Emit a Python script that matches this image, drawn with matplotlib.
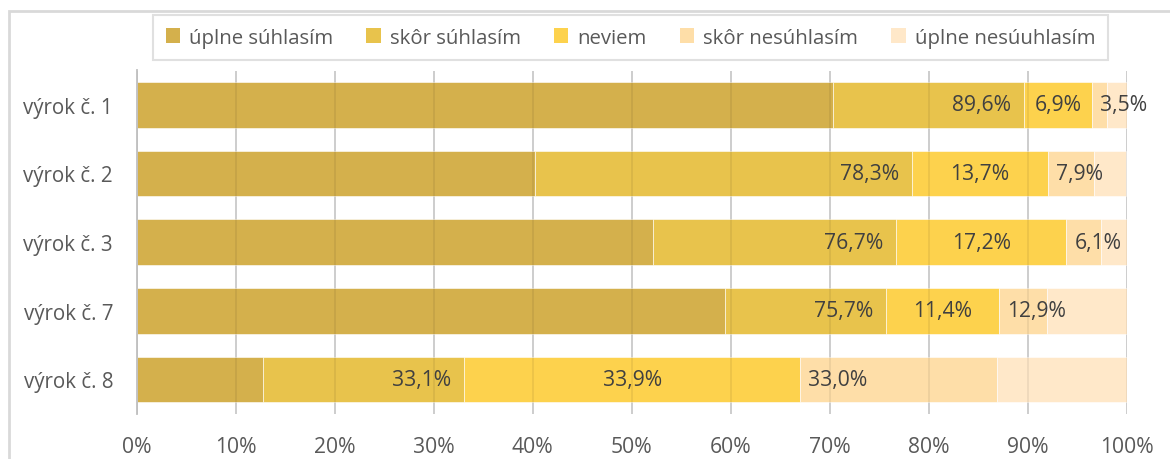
import matplotlib
matplotlib.use("Agg")
import matplotlib.pyplot as plt
import numpy as np
from matplotlib.patches import Patch, Rectangle

plt.rcParams["font.family"] = ["Open Sans", "DejaVu Sans"]

statements = ["výrok č. 1", "výrok č. 2", "výrok č. 3", "výrok č. 7", "výrok č. 8"]
series_names = ["úplne súhlasím", "skôr súhlasím", "neviem", "skôr nesúhlasím", "úplne nesúuhlasím"]
uplne_suhlasim = [70.3, 40.2, 52.2, 59.4, 12.8]
skor_suhlasim = [19.3, 38.1, 24.5, 16.3, 20.3]
neviem = [6.9, 13.7, 17.2, 11.4, 33.9]
skor_nesuhlasim = [1.5, 4.7, 3.5, 4.8, 19.9]
uplne_nesuhlasim = [2.0, 3.2, 2.6, 8.1, 13.1]
colors = ["#D4B04C", "#E8C34C", "#FDD24D", "#FEDEA8", "#FFE8C9"]
xticks = list(range(0, 101, 10))

text_color = "#404040"
axis_text_color = "#595959"

fig = plt.figure(figsize=(11.7, 4.6), dpi=100)
ax = fig.add_axes([136.7 / 1170, 1 - 414.8 / 460, 990 / 1170, 343.3 / 460])

series = [uplne_suhlasim, skor_suhlasim, neviem, skor_nesuhlasim, uplne_nesuhlasim]
y = np.arange(len(statements))
left = np.zeros(len(statements))
for vals, color, name in zip(series, colors, series_names):
    ax.barh(y, vals, left=left, height=0.665, color=color, edgecolor="white",
            linewidth=0.4, label=name, zorder=1)
    left = left + np.array(vals)

agree = np.array(uplne_suhlasim) + np.array(skor_suhlasim)
disagree = np.array(skor_nesuhlasim) + np.array(uplne_nesuhlasim)
lab_size = 15.2
for i in range(len(statements)):
    ax.annotate(f"{agree[i]:.1f}%".replace(".", ","), (agree[i], y[i]), xytext=(-9.5, 0),
                textcoords="offset points", ha="right", va="center",
                fontsize=lab_size, color=text_color, zorder=3)
    ax.text(agree[i] + neviem[i] / 2, y[i], f"{neviem[i]:.1f}%".replace(".", ","),
            ha="center", va="center", fontsize=lab_size, color=text_color, zorder=3)
    ax.annotate(f"{disagree[i]:.1f}%".replace(".", ","), (agree[i] + neviem[i], y[i]),
                xytext=(6, 0), textcoords="offset points", ha="left", va="center",
                fontsize=lab_size, color=text_color, zorder=3, annotation_clip=False)

ax.set_xlim(0, 100)
ax.set_ylim(len(statements) - 0.5, -0.5)
ax.set_xticks(xticks)
ax.set_xticklabels([f"{t}%" for t in xticks])
ax.set_yticks(y)
ax.set_yticklabels(statements)
ax.tick_params(axis="x", length=0, pad=16, labelsize=15.2, labelcolor=axis_text_color)
ax.tick_params(axis="y", length=0, pad=17, labelsize=14.8, labelcolor=axis_text_color)
# light grid behind, faint copy on top so it shows through the bars
ax.grid(axis="x", color="#D9D9D9", linewidth=1.3, zorder=0)
ax.set_axisbelow(True)
ax.vlines(xticks, -0.5, len(statements) - 0.5, color="black", alpha=0.07,
          linewidth=1.3, zorder=2)
for side in ["top", "right", "bottom"]:
    ax.spines[side].set_visible(False)
ax.spines["left"].set_color("#BFBFBF")
ax.spines["left"].set_linewidth(1.3)

handles = [Patch(facecolor=c, edgecolor="none") for c in colors]
leg = fig.legend(handles, series_names, loc="upper center", ncol=5,
                 bbox_to_anchor=(630.5 / 1170, 1 - 16 / 460), fontsize=14.7,
                 frameon=True, fancybox=False, edgecolor="#D9D9D9",
                 handlelength=0.7, handleheight=0.7, handletextpad=0.45,
                 columnspacing=1.62, borderpad=0.62, borderaxespad=0,
                 labelcolor=axis_text_color)
leg.get_frame().set_linewidth(1.5)

fig.patches.append(Rectangle((9 / 1170, -0.2), 1.5, 1.2 - 12 / 460,
                             transform=fig.transFigure, fill=False,
                             edgecolor="#D9D9D9", linewidth=2))

fig.savefig("out.png", dpi=100)
